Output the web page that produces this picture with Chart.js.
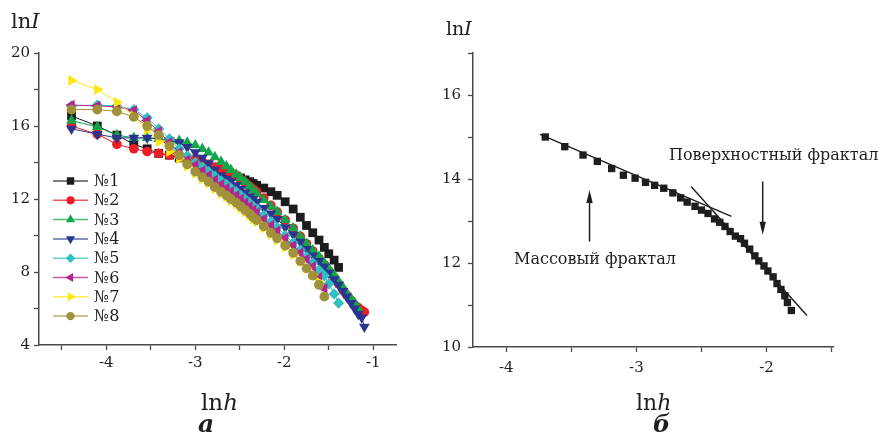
<!DOCTYPE html>
<html>
<head>
<meta charset="utf-8">
<script src="https://cdn.jsdelivr.net/npm/chart.js@4.4.0/dist/chart.umd.min.js"></script>
<style>
  html, body { margin: 0; padding: 0; background: #fff; }
  #wrap { position: relative; width: 879px; height: 437px; }
  canvas { position: absolute; top: 0; display: block; }
  #left { left: 0; }
  #right { left: 420px; }
</style>
</head>
<body>
<div id="wrap">
  <canvas id="left" width="420" height="437"></canvas>
  <canvas id="right" width="459" height="437"></canvas>
</div>
<script>
// panel a: ln h grid shared by all samples
const lnH = [-4.39, -4.10, -3.88, -3.69, -3.54, -3.41, -3.29, -3.18, -3.09, -3.00,
  -2.92, -2.85, -2.78, -2.71, -2.65, -2.60, -2.54, -2.49, -2.44, -2.39,
  -2.35, -2.31, -2.23, -2.15, -2.08, -1.99, -1.90, -1.82, -1.75, -1.68,
  -1.61, -1.55, -1.50, -1.44, -1.39, -1.34, -1.30, -1.25, -1.21, -1.17,
  -1.13, -1.10];

const s1 = [16.55, 16.0, 15.5, 15.0, 14.75, 14.5, 14.4, 14.25, 14.1, 14.0,
  13.9, 13.8, 13.7, 13.6, 13.5, 13.35, 13.25, 13.15, 13.05, 12.95,
  12.85, 12.75, 12.6, 12.4, 12.2, 11.85, 11.45, 11.0, 10.55, 10.15,
  9.75, 9.35, 9.0, 8.65, 8.25];
const s2 = [16.0, 15.55, 15.0, 14.75, 14.6, 14.5, 14.4, 14.35, 14.3, 14.2,
  14.05, 13.9, 13.75, 13.65, 13.55, 13.45, 13.3, 13.1, 12.9, 12.7,
  12.55, 12.4, 12.05, 11.65, 11.3, 10.85, 10.4, 9.95, 9.55, 9.15,
  8.75, 8.4, 8.05, 7.7, 7.35, 7.0, 6.75, 6.45, 6.2, 6.05,
  5.9, 5.8];
const s3 = [16.3, 15.95, 15.5, 15.35, 15.35, 15.3, 15.25, 15.2, 15.1, 14.95,
  14.75, 14.55, 14.3, 14.05, 13.8, 13.6, 13.35, 13.15, 12.95, 12.7,
  12.5, 12.3, 11.95, 11.6, 11.3, 10.85, 10.4, 9.95, 9.55, 9.2,
  8.85, 8.5, 8.2, 7.85, 7.5, 7.15, 6.85, 6.55, 6.3, 6.0];
const s4 = [15.85, 15.55, 15.35, 15.35, 15.35, 15.3, 15.2, 15.1, 14.85, 14.55,
  14.25, 13.95, 13.6, 13.3, 13.1, 12.95, 12.75, 12.55, 12.35, 12.15,
  12.0, 11.85, 11.5, 11.2, 10.9, 10.45, 10.05, 9.65, 9.25, 8.9,
  8.6, 8.3, 7.95, 7.6, 7.3, 6.95, 6.65, 6.3, 6.0, 5.7,
  5.5, 5.0];
const s5 = [17.1, 17.15, 17.1, 16.9, 16.45, 15.85, 15.3, 14.75, 14.35, 14.0,
  13.75, 13.5, 13.25, 13.0, 12.8, 12.6, 12.4, 12.2, 12.0, 11.8,
  11.6, 11.45, 11.1, 10.75, 10.45, 10.0, 9.6, 9.2, 8.85, 8.5,
  8.1, 7.8, 7.35, 6.8, 6.3];
const s6 = [17.15, 17.1, 17.05, 16.85, 16.3, 15.7, 15.1, 14.55, 14.15, 13.85,
  13.55, 13.3, 13.05, 12.8, 12.6, 12.4, 12.2, 12.0, 11.8, 11.6,
  11.4, 11.25, 10.9, 10.55, 10.25, 9.85, 9.45, 9.05, 8.7, 8.3,
  7.7, 7.1];
const s7 = [18.5, 18.0, 17.3, 16.55, 15.8, 15.15, 14.6, 14.2, 13.8, 13.4,
  13.1, 12.85, 12.55, 12.3, 12.1, 11.9, 11.7, 11.5, 11.3, 11.1,
  10.9, 10.75, 10.4, 10.05, 9.75, 9.35, 8.95, 8.55, 8.2, 7.85,
  7.45];
const s8 = [16.9, 16.9, 16.8, 16.5, 16.0, 15.5, 14.9, 14.4, 13.9, 13.5,
  13.2, 12.95, 12.65, 12.4, 12.2, 12.0, 11.8, 11.6, 11.4, 11.2,
  11.0, 10.85, 10.5, 10.15, 9.85, 9.45, 9.05, 8.6, 8.2, 7.8,
  7.3, 6.65];
const names = ['№1', '№2', '№3', '№4', '№5', '№6', '№7', '№8'];

const leftXTicks = [-4, -3, -2, -1];
const leftYTicks = [4, 8, 12, 16, 20];

// panel б
const rightX = [-3.70, -3.55, -3.41, -3.30, -3.19, -3.10, -3.01, -2.93, -2.86, -2.79,
  -2.72, -2.66, -2.61, -2.55, -2.50, -2.45, -2.40, -2.36, -2.32, -2.28,
  -2.24, -2.20, -2.17, -2.13, -2.09, -2.06, -2.02, -1.99, -1.95, -1.92,
  -1.89, -1.86, -1.84, -1.81];
const rightY = [15.0, 14.77, 14.57, 14.42, 14.25, 14.09, 14.02, 13.92, 13.85, 13.78,
  13.67, 13.55, 13.45, 13.35, 13.26, 13.18, 13.05, 12.97, 12.87, 12.75,
  12.64, 12.58, 12.47, 12.33, 12.17, 12.05, 11.93, 11.81, 11.67, 11.51,
  11.37, 11.22, 11.06, 10.87];
const massFitX = [-3.74, -2.27];
const massFitY = [15.06, 13.11];
const surfFitX = [-2.58, -1.69];
const surfFitY = [13.82, 10.75];
const arrowX = [-3.36, -2.03];
const arrowFrom = [12.51, 13.94];
const arrowTo = [13.74, 12.67];
const noteText = ['Массовый фрактал', 'Поверхностный фрактал'];
const noteX = [-3.94, -2.75];
const noteY = [12.07, 14.54];

const rightXTicks = [-4, -3, -2];
const rightYTicks = [10, 12, 14, 16];

const FONT = '"DejaVu Serif"';
const AXIS = '#4a4a4a';
const INK = '#1e1e1e';

function pairs(xs, ys) {
  return ys.map((y, i) => ({ x: xs[i], y: y }));
}

function makeAxis(min, max, step, labels, fit, pad) {
  return {
    type: 'linear',
    min: min,
    max: max,
    border: { display: true, color: AXIS, width: 1.5 },
    grid: { drawOnChartArea: false, drawTicks: true, tickLength: 5, tickColor: AXIS, tickWidth: 1.3 },
    ticks: {
      stepSize: step,
      includeBounds: false,
      autoSkip: false,
      maxRotation: 0,
      padding: pad,
      color: INK,
      font: { family: FONT, size: 15 },
      callback: (v) => labels.some((t) => Math.abs(t - v) < 1e-6) ? String(v) : ''
    },
    afterFit: fit
  };
}

function drawParts(ctx, parts, x, y) {
  ctx.save();
  ctx.fillStyle = INK;
  ctx.textAlign = 'left';
  ctx.textBaseline = 'alphabetic';
  parts.forEach((p) => {
    ctx.font = p[1];
    ctx.fillText(p[0], x, y);
    x += ctx.measureText(p[0]).width;
  });
  ctx.restore();
}

const styles = [
  { color: '#1c1c1c', point: 'rect', rot: 0, r: 6.2 },
  { color: '#ee1d24', point: 'circle', rot: 0, r: 4.8 },
  { color: '#12a64a', point: 'triangle', rot: 0, r: 6.2 },
  { color: '#2b3590', point: 'triangle', rot: 180, r: 6.2 },
  { color: '#31c0c0', point: 'rectRot', rot: 0, r: 5.6 },
  { color: '#b3258f', point: 'triangle', rot: 270, r: 6.2 },
  { color: '#fce80c', point: 'triangle', rot: 90, r: 6.2 },
  { color: '#a0913a', point: 'circle', rot: 0, r: 4.9 }
];
const series = [s1, s2, s3, s4, s5, s6, s7, s8];

const leftDecor = {
  id: 'leftDecor',
  afterDraw(chart) {
    const ctx = chart.ctx;
    const area = chart.chartArea;
    const x0 = area.left + 14;
    const y0 = area.top + 128;
    chart.data.datasets.forEach((ds, i) => {
      const y = y0 + i * 19.3;
      ctx.save();
      ctx.strokeStyle = ds.borderColor;
      ctx.globalAlpha = 0.75;
      ctx.lineWidth = 1.5;
      ctx.beginPath();
      ctx.moveTo(x0, y);
      ctx.lineTo(x0 + 35, y);
      ctx.stroke();
      ctx.globalAlpha = 1;
      ctx.fillStyle = ds.pointBackgroundColor;
      Chart.helpers.drawPoint(ctx, {
        pointStyle: ds.pointStyle,
        rotation: ds.pointRotation,
        radius: ds.pointRadius * 0.85,
        borderWidth: 0
      }, x0 + 17.5, y);
      ctx.fillStyle = INK;
      ctx.font = `16px ${FONT}`;
      ctx.textBaseline = 'middle';
      ctx.fillText(ds.label, x0 + 41, y + 1);
      ctx.restore();
    });
    drawParts(ctx, [['ln', `21px ${FONT}`], ['I', `italic 21px ${FONT}`]], 11, 28);
    drawParts(ctx, [['ln', `23px ${FONT}`], ['h', `italic 23px ${FONT}`]], 201, 410);
    drawParts(ctx, [['а', `bold italic 25px ${FONT}`]], 198, 432);
  }
};

new Chart(document.getElementById('left'), {
  type: 'scatter',
  data: {
    datasets: series.map((ys, i) => ({
      label: names[i],
      data: pairs(lnH, ys),
      showLine: true,
      borderColor: styles[i].color,
      borderWidth: 1,
      pointStyle: styles[i].point,
      pointRotation: styles[i].rot,
      pointRadius: styles[i].r,
      pointBackgroundColor: styles[i].color,
      pointBorderWidth: 0,
      order: 8 - i
    }))
  },
  options: {
    responsive: false,
    animation: false,
    layout: { padding: { top: 53, right: 24, left: 0, bottom: 0 } },
    plugins: { legend: { display: false }, tooltip: { enabled: false } },
    scales: {
      x: makeAxis(-4.755, -0.745, 0.5, leftXTicks, (a) => { a.height = 92; }, 4),
      y: makeAxis(4, 20, 2, leftYTicks, (a) => { a.width = 39; }, 4)
    }
  },
  plugins: [leftDecor]
});

const rightDecor = {
  id: 'rightDecor',
  afterDatasetsDraw(chart) {
    const ctx = chart.ctx;
    const xs = chart.scales.x;
    const ys = chart.scales.y;
    ctx.save();
    ctx.strokeStyle = INK;
    ctx.fillStyle = INK;
    ctx.lineWidth = 1.5;
    arrowX.forEach((v, i) => {
      const px = xs.getPixelForValue(v);
      const a = ys.getPixelForValue(arrowFrom[i]);
      const b = ys.getPixelForValue(arrowTo[i]);
      const dir = b > a ? 1 : -1;
      ctx.beginPath();
      ctx.moveTo(px, a);
      ctx.lineTo(px, b - dir * 10);
      ctx.stroke();
      ctx.beginPath();
      ctx.moveTo(px, b);
      ctx.lineTo(px - 3.2, b - dir * 13);
      ctx.lineTo(px + 3.2, b - dir * 13);
      ctx.closePath();
      ctx.fill();
    });
    ctx.font = `16px ${FONT}`;
    ctx.textBaseline = 'middle';
    noteText.forEach((t, i) => {
      ctx.fillText(t, xs.getPixelForValue(noteX[i]), ys.getPixelForValue(noteY[i]));
    });
    ctx.restore();
    drawParts(ctx, [['ln', `19px ${FONT}`], ['I', `italic 19px ${FONT}`]], 26, 35);
    drawParts(ctx, [['ln', `22px ${FONT}`], ['h', `italic 22px ${FONT}`]], 216, 410);
    drawParts(ctx, [['б', `bold italic 24px ${FONT}`]], 233, 432);
  }
};

new Chart(document.getElementById('right'), {
  type: 'scatter',
  data: {
    datasets: [
      {
        data: pairs(rightX, rightY),
        pointStyle: 'rect',
        pointRadius: 5.2,
        pointBackgroundColor: INK,
        pointBorderWidth: 0,
        showLine: false
      },
      {
        data: pairs(massFitX, massFitY),
        showLine: true,
        borderColor: INK,
        borderWidth: 1.4,
        pointRadius: 0
      },
      {
        data: pairs(surfFitX, surfFitY),
        showLine: true,
        borderColor: INK,
        borderWidth: 1.4,
        pointRadius: 0
      }
    ]
  },
  options: {
    responsive: false,
    animation: false,
    layout: { padding: { top: 53, right: 46, left: 0, bottom: 0 } },
    plugins: { legend: { display: false }, tooltip: { enabled: false } },
    scales: {
      x: makeAxis(-4.255, -1.49, 0.5, rightXTicks, (a) => { a.height = 90; }, 7),
      y: makeAxis(10, 17, 1, rightYTicks, (a) => { a.width = 53; }, 7)
    }
  },
  plugins: [rightDecor]
});
</script>
</body>
</html>
